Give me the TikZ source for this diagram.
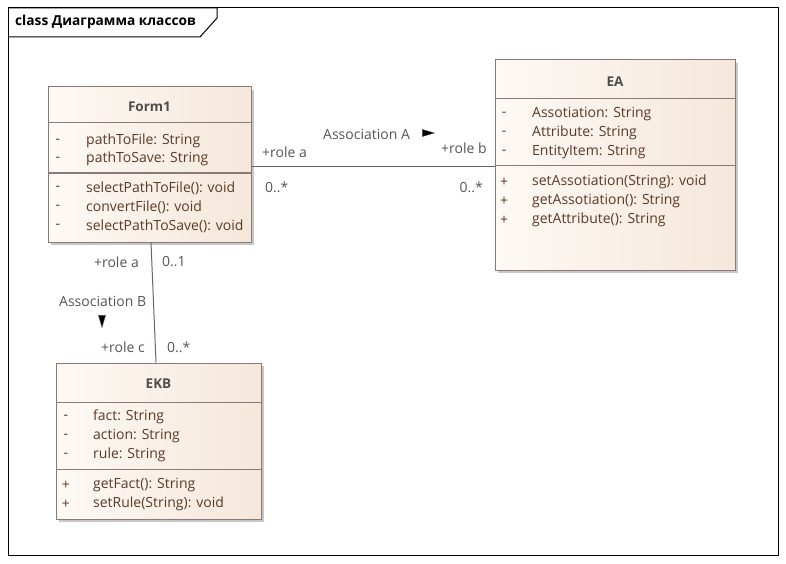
\documentclass[tikz,border=0pt]{standalone}
\usepackage{fontspec}
\setmainfont{Open Sans}
\usepackage{tikz}
\usetikzlibrary{arrows.meta,positioning,shapes.geometric,shadows}
\usepackage{xcolor}
\definecolor{clsborder}{RGB}{140,120,120}
\definecolor{clsleft}{RGB}{253,249,245}
\definecolor{clsright}{RGB}{245,231,218}
\definecolor{membtxt}{RGB}{90,58,38}
\definecolor{ttltxt}{RGB}{78,78,78}
\definecolor{lbltxt}{RGB}{85,85,85}
\definecolor{assocline}{RGB}{92,102,128}

\begin{document}
\begin{tikzpicture}[x=1pt, y=-1pt,
  cls/.style={draw=clsborder, line width=1pt, inner sep=0pt, left color=clsleft, right color=clsright,
    drop shadow={shadow xshift=3pt, shadow yshift=-3pt, fill=black!22, opacity=1}},
  sep/.style={draw=clsborder, line width=1pt},
  ttl/.style={font=\fontsize{13.5}{15}\selectfont\bfseries, text=ttltxt, inner sep=0pt},
  mem/.style={font=\fontsize{14}{16}\selectfont, text=membtxt, anchor=west, inner sep=0pt},
  vis/.style={font=\fontsize{14}{16}\selectfont, text=membtxt, inner sep=0pt},
  assoc/.style={draw=assocline, line width=1pt},
  lbl/.style={font=\fontsize{14}{16}\selectfont, text=lbltxt, inner sep=0pt},
  dirmark/.style={isosceles triangle, isosceles triangle stretches, fill=black, draw=black!70,
    inner sep=0pt, minimum height=12pt, minimum width=7pt}]
\useasboundingbox (0,0) rectangle (786,564);

%% -- frame ------------------------------------------------
\draw[line width=1pt] (8,8) rectangle (778,555);
\draw[line width=1pt] (8,8) -- (217,8) -- (217,18) -- (200,37) -- (8,37);
\node[font=\fontsize{13.7}{15}\selectfont\bfseries, anchor=west, inner sep=0pt] (frametitle) at (15,22) {class Диаграмма классов};

%% -- Form1 ------------------------------------------------
\node[cls, minimum width=203pt, minimum height=155pt] (form1) at (149.5,164.5) {};
\draw[sep] (form1.west |- 0,123) -- (form1.east |- 0,123);
\draw[sep] (form1.west |- 0,173) -- (form1.east |- 0,173);
\node[ttl] (form1name) at (149.5,107) {Form1};
\foreach \y/\v/\t in {141/-/pathToFile: String, 159/-/pathToSave: String,
  188/-/selectPathToFile(): void, 207/-/convertFile(): void, 226/-/selectPathToSave(): void}
  {\node[vis] at (58,\y) {\v}; \node[mem] at (86,\y) {\t};}

%% -- EA ---------------------------------------------------
\node[cls, minimum width=240pt, minimum height=210pt] (ea) at (615,165) {};
\draw[sep] (ea.west |- 0,99) -- (ea.east |- 0,99);
\draw[sep] (ea.west |- 0,166) -- (ea.east |- 0,166);
\node[ttl] (eaname) at (615,82) {EA};
\foreach \y/\v/\t in {114/-/Assotiation: String, 133/-/Attribute: String, 152/-/EntityItem: String,
  182/+/setAssotiation(String): void, 201/+/getAssotiation(): String, 220/+/getAttribute(): String}
  {\node[vis] at (504,\y) {\v}; \node[mem] at (532,\y) {\t};}

%% -- EKB --------------------------------------------------
\node[cls, minimum width=205pt, minimum height=156pt] (ekb) at (158.5,441) {};
\draw[sep] (ekb.west |- 0,402) -- (ekb.east |- 0,402);
\draw[sep] (ekb.west |- 0,469) -- (ekb.east |- 0,469);
\node[ttl] (ekbname) at (158.5,384) {EKB};
\foreach \y/\v/\t in {417/-/fact: String, 436/-/action: String, 455/-/rule: String,
  485/+/getFact(): String, 504/+/setRule(String): void}
  {\node[vis] at (66,\y) {\v}; \node[mem] at (93,\y) {\t};}

%% -- Association A ----------------------------------------
\draw[assoc] ([yshift=-2.5pt]form1.east) -- ([yshift=-2.5pt]form1.east -| ea.west);
\node[lbl, anchor=west] (assocA) at (323,134) {Association A};
\node[dirmark] (dirA) at (425,133) {};
\node[lbl, anchor=west] at (262,152) {+role a};
\node[lbl, anchor=west] at (441,148) {+role b};
\node[lbl, anchor=west] at (265,187) {0..*};
\node[lbl, anchor=east] at (483,187) {0..*};

%% -- Association B ----------------------------------------
\draw[assoc] ([xshift=1.5pt]form1.south) -- ([xshift=-2.5pt]ekb.north);
\node[lbl, anchor=west] (assocB) at (59,301) {Association B};
\node[dirmark, shape border rotate=-90] (dirB) at (102,318) {};
\node[lbl, anchor=east] at (139,262) {+role a};
\node[lbl, anchor=west] at (162,262) {0..1};
\node[lbl, anchor=east] at (145,347) {+role c};
\node[lbl, anchor=west] at (167,347) {0..*};
\end{tikzpicture}
\end{document}
